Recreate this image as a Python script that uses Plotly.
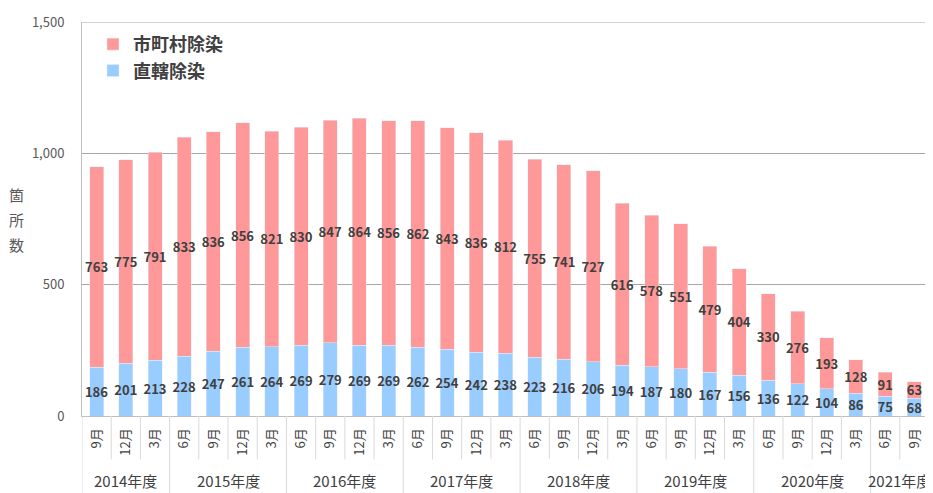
import plotly.graph_objects as go

fiscal_years = ["2014年度", "2015年度", "2016年度", "2017年度",
                "2018年度", "2019年度", "2020年度", "2021年度"]
months_per_year = [3, 4, 4, 4, 4, 4, 4, 2]
months = (["9月", "12月", "3月"]
          + ["6月", "9月", "12月", "3月"] * 6
          + ["6月", "9月"])

direct = [186, 201, 213, 228, 247, 261, 264, 269, 279, 269, 269, 262, 254, 242, 238,
          223, 216, 206, 194, 187, 180, 167, 156, 136, 122, 104, 86, 75, 68]
municipal = [763, 775, 791, 833, 836, 856, 821, 830, 847, 864, 856, 862, 843, 836, 812,
             755, 741, 727, 616, 578, 551, 479, 404, 330, 276, 193, 128, 91, 63]

y_ticks = [0, 500, 1000, 1500]
y_title_chars = ["箇", "所", "数"]

FONT = "Noto Sans CJK JP"
TXT = "#404040"
SEP = "#D9D9D9"
GRID = "#A6A6A6"

pos = list(range(len(months)))

fig = go.Figure()
label_font = dict(family=FONT, size=13, color=TXT, weight="bold")
fig.add_trace(go.Bar(
    name="直轄除染", x=pos, y=direct, marker_color="#99CCFF", width=0.48,
    text=direct, textposition="inside", insidetextanchor="middle", constraintext="none",
    textangle=0, textfont=label_font, hoverinfo="y"))
fig.add_trace(go.Bar(
    name="市町村除染", x=pos, y=municipal, marker_color="#FF9999", width=0.48,
    text=municipal, textposition="inside", insidetextanchor="middle", constraintext="none",
    textangle=0, textfont=label_font, hoverinfo="y"))

# y-axis title, one character per line
for i, ch in enumerate(y_title_chars):
    fig.add_annotation(text=ch, xref="paper", yref="paper", x=-0.077, xanchor="center",
                       y=0.561 - i * 0.063, yanchor="middle", showarrow=False,
                       font=dict(family=FONT, size=15, color="#595959"))

# category separators and fiscal-year group labels
shapes = []
start = 0
boundaries = set()
for fy, n in zip(fiscal_years, months_per_year):
    end = start + n
    fig.add_annotation(text=fy, xref="x", yref="paper", x=(start + end - 1) / 2,
                       y=-0.163, xanchor="center", yanchor="middle", showarrow=False,
                       font=dict(family=FONT, size=15, color=TXT))
    boundaries.add(start)
    start = end
boundaries.add(start)
for b in range(len(months) + 1):
    long_line = b in boundaries
    shapes.append(dict(type="line", xref="x", yref="paper", x0=b - 0.5, x1=b - 0.5,
                       y0=0, y1=-0.2 if long_line else -0.11,
                       line=dict(color=SEP, width=1)))
# top gridline (plotly clips gridlines at the range ends)
shapes.append(dict(type="line", xref="paper", yref="y", x0=0, x1=1,
                   y0=y_ticks[-1], y1=y_ticks[-1], line=dict(color=GRID, width=1)))

fig.update_layout(
    width=925, height=485,
    margin=dict(l=74, r=4, t=9, b=77),
    barmode="stack",
    plot_bgcolor="white", paper_bgcolor="white",
    font=dict(family=FONT, color=TXT),
    showlegend=True,
    shapes=shapes,
    legend=dict(x=0.013, y=0.99, xanchor="left", yanchor="top", traceorder="reversed",
                font=dict(family=FONT, size=18, color=TXT, weight="bold"),
                bgcolor="rgba(0,0,0,0)", tracegroupgap=0),
    xaxis=dict(range=[-0.5, len(months) - 0.5], tickvals=pos, ticktext=months,
               tickangle=-90, showline=True, linecolor="#BFBFBF", ticks="",
               ticklabelstandoff=6,
               tickfont=dict(family=FONT, size=13, color=TXT), showgrid=False,
               zeroline=False),
    yaxis=dict(range=[0, 1500], tickvals=y_ticks, tickformat=",", showline=True,
               linecolor="#BFBFBF", gridcolor=GRID, gridwidth=1, zeroline=False,
               ticklabelstandoff=14, ticklabeloverflow="allow",
               tickfont=dict(family=FONT, size=13, color="#595959")),
)

fig.write_html("out.html")
